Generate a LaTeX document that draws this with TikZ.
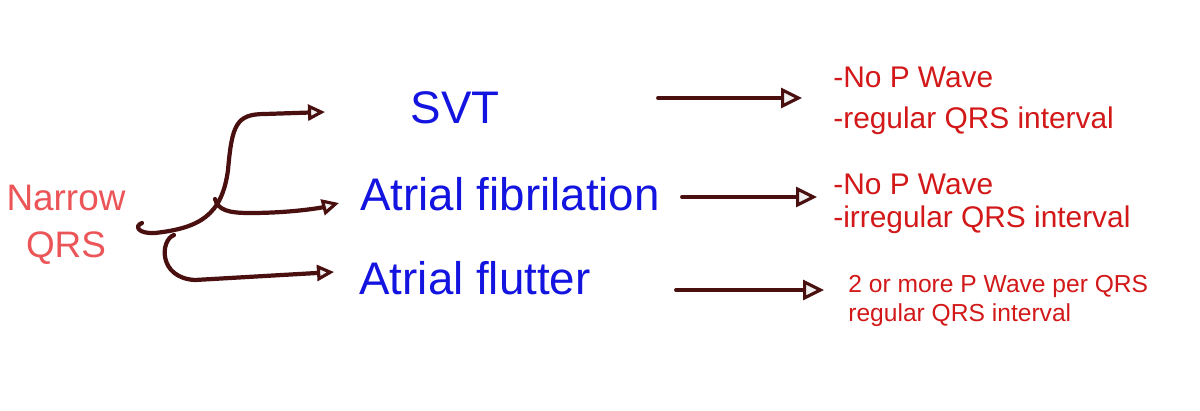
\documentclass[tikz,border=0pt]{standalone}
\usepackage{fontspec}
\setmainfont{Liberation Sans}
\usepackage{xcolor}
\usepackage{tikz}
\usetikzlibrary{arrows.meta,positioning,calc}

\definecolor{salmon}{HTML}{EC5558}
\definecolor{penblue}{HTML}{1414E0}
\definecolor{penred}{HTML}{D21818}
\definecolor{maroon}{HTML}{4A1010}

\begin{document}
\begin{tikzpicture}[
    x=0.02cm, y=-0.02cm,
    cause/.style={align=center, text=salmon, inner sep=0pt, font=\fontsize{21}{27}\selectfont},
    rhythm/.style={text=penblue, inner sep=0pt, font=\fontsize{26}{30}\selectfont},
    note/.style={anchor=west, align=left, text=penred, inner sep=0pt, font=\fontsize{17}{19}\selectfont},
    arrow/.style={-{Triangle[open, fill=gray!12, length=0.42cm, width=0.4cm, line width=1.8pt]}, line width=2.2pt, draw=maroon, line cap=round},
    fork/.style={-{Triangle[open, fill=gray!12, length=0.34cm, width=0.32cm, line width=1.8pt]}, line width=2.4pt, draw=maroon, line cap=round}
]
\useasboundingbox (0,0) rectangle (1200,410);

% Nodes
\node[cause] (narrow) at (66,225) {Narrow\\QRS};

\node[rhythm] (svt) at (455,108) {SVT};
\node[rhythm] (afib) at (510,194) {Atrial fibrilation};
\node[rhythm] (aflut) at (475,278) {Atrial flutter};

\node[note] (svtnote) at (833,101) {-No P Wave\\[4pt]-regular QRS interval};
\node[note] (afibnote) at (833,204) {-No P Wave\\-irregular QRS interval};
\node[note, font=\fontsize{14}{17}\selectfont] (aflutnote) at (848,301) {2 or more P Wave per QRS\\regular QRS interval};

% Coordinates
\coordinate (fork) at (142,223);
\coordinate (branch) at (215,199);
\coordinate (lowbranch) at (174,235);
\coordinate (svtin) at (325,112);
\coordinate (afibin) at (339,203);
\coordinate (aflutin) at (334,272);

\coordinate (svtout) at (658,98);
\coordinate (svtend) at (802,98);
\coordinate (afibout) at (682,197);
\coordinate (afibend) at (817,197);
\coordinate (aflutout) at (676,290);
\coordinate (aflutend) at (824,290);

% Edges
\draw[fork] (fork) .. controls (134,226) and (138,234) .. (155,233)
    .. controls (200,228) and (222,215) .. (228,170)
    .. controls (232,125) and (236,114) .. (265,114) -- (svtin);
\draw[fork] (branch) .. controls (218,210) and (228,213) .. (250,213)
    .. controls (290,213) and (320,208) .. (afibin);
\draw[fork] (lowbranch) .. controls (160,240) and (158,278) .. (195,280) -- (aflutin);

\draw[arrow] (svtout) -- (svtend);
\draw[arrow] (afibout) -- (afibend);
\draw[arrow] (aflutout) -- (aflutend);

\end{tikzpicture}
\end{document}
